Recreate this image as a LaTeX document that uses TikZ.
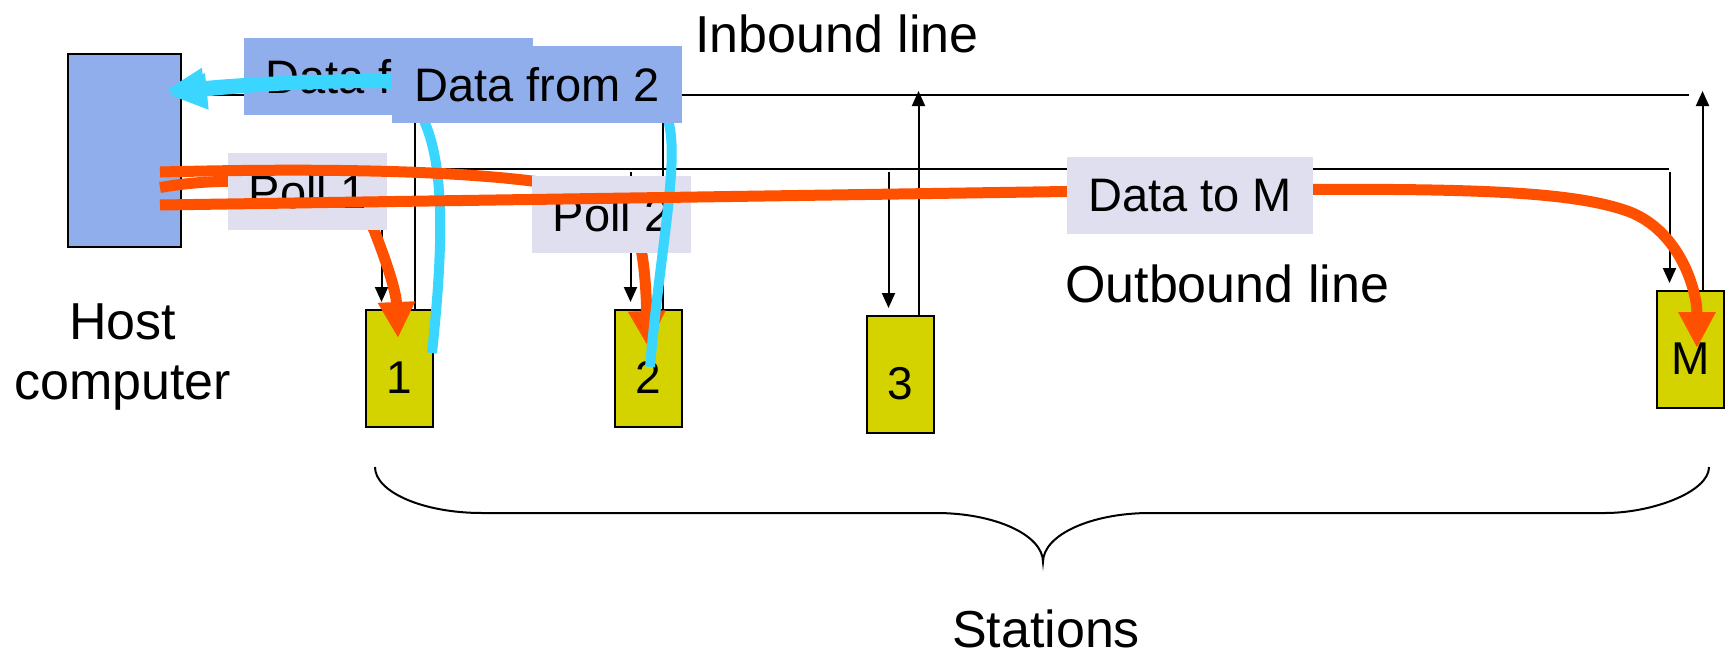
\documentclass[tikz,border=0pt]{standalone}
\usepackage{fontspec}
\setmainfont{Liberation Sans}
\usetikzlibrary{arrows.meta,calc,positioning}
\definecolor{hostblue}{RGB}{143,174,235}
\definecolor{polllav}{RGB}{223,223,239}
\definecolor{stnyellow}{RGB}{212,211,0}
\definecolor{pollred}{RGB}{255,80,0}
\definecolor{datacyan}{RGB}{58,214,255}

\begin{document}
\begin{tikzpicture}[x=1pt, y=-1pt,
    box/.style={draw=black, line width=2pt},
    stn/.style={box, fill=stnyellow, minimum width=67pt, minimum height=117pt,
      inner sep=0pt, text height=49pt, text depth=0pt, font=\fontsize{46}{46}\selectfont},
    tag/.style={inner sep=0pt, minimum width=#1, minimum height=77pt,
      font=\fontsize{47}{47}\selectfont},
    big/.style={inner sep=0pt, font=\fontsize{52}{60}\selectfont},
    wire/.style={line width=2pt},
    feed/.style={wire, -{Triangle[length=15pt,width=13pt]}},
    poll/.style={line width=11pt, draw=pollred, -{Triangle[length=36pt,width=35pt]}},
    reply/.style={line width=10pt, draw=datacyan, -{Triangle[length=38pt,width=34pt]}}]
  \useasboundingbox (0,0) rectangle (1726,656);

  \node[box, fill=hostblue, minimum width=113pt, minimum height=193pt] (H) at (124.5,150.5) {};
  \node[big, align=center, below=56pt of H, xshift=-2pt] (HL) {Host\\computer};

  \node[stn] (S1) at (399.5,368.5) {1};
  \node[stn] (S2) at (648.5,368.5) {2};
  \node[stn] (S3) at (900.5,374.5) {3};
  \node[stn] (SM) at (1690.5,349.5) {M};

  \coordinate (IN) at (1689,95);
  \coordinate (OUT) at (1669,169);
  \draw[wire] (H.east |- IN) -- (IN);
  \draw[wire] (H.east |- OUT) -- (OUT);
  \foreach \s/\dn/\up in {S1/-18/15, S2/-18/14, S3/-12/18, SM/-21/12}{
    \draw[feed] ($(\s.north |- OUT)+(\dn,3)$) -- ($(\s.north)+(\dn,-7)$);
    \draw[feed] ($(\s.north)+(\up,0)$) -- ($(\s.north |- IN)+(\up,-4)$);
  }

  \node[big, anchor=base west] (IL) at (695,52) {Inbound line};
  \node[big, anchor=base west] (OL) at (1065,302) {Outbound line};

  \draw[wire] (375,467) .. controls (375,492) and (423,513) .. (482,513) -- (936,513)
    .. controls (995,513) and (1043,535) .. (1043,562)
    .. controls (1043,535) and (1091,513) .. (1150,513) -- (1605,513)
    .. controls (1652,513) and (1709,492) .. (1709,467);
  \node[big, anchor=base] (ST) at (1046,647) {Stations};

  \node[tag=289pt, fill=hostblue] (D1) at (388.5,76.5) {Data from 1};

  \draw[poll] ($(H.east)+(-22,37)$) .. controls (250,172) and (355,185) .. (374,230)
    .. controls (385,258) and (396,290) .. ($(S1.north)+(-1.5,29)$);
  \node[tag=159pt, fill=polllav] (P1) at (307.5,191.5) {Poll 1};

  \draw[reply] ($(S1.center)+(32.5,-15.5)$) .. controls (443,250) and (445,170) .. (425,123)
    .. controls (415,100) and (405,84) .. (380,83)
    .. controls (300,83) and (240,88) .. ($(H.east)+(-13,-55.5)$);

  \draw[poll] ($(H.east)+(-22,21.5)$) .. controls (400,166) and (560,175) .. (615,200)
    .. controls (640,215) and (645,260) .. ($(S2.north)+(-0.5,38)$);
  \node[tag=159pt, fill=polllav] (P2) at (611.5,214.5) {Poll 2};

  \draw[reply] ($(S2.center)+(1.5,-1.5)$) .. controls (660,250) and (680,160) .. (668,120)
    .. controls (655,90) and (620,80) .. (560,79) -- (392,79)
    .. controls (300,79) and (235,83) .. ($(H.east)+(-16,-60.5)$);
  \node[tag=290pt, fill=hostblue] (D2) at (537,84.5) {Data from 2};

  \draw[poll] ($(H.east)+(-22,54.5)$) -- (1100,191) .. controls (1420,188) and (1560,186) .. (1630,212)
    .. controls (1680,232) and (1697,290) .. ($(SM.north)+(6.5,58)$);
  \node[tag=246pt, fill=polllav] (DM) at (1190,195.5) {Data to M};
\end{tikzpicture}
\end{document}
